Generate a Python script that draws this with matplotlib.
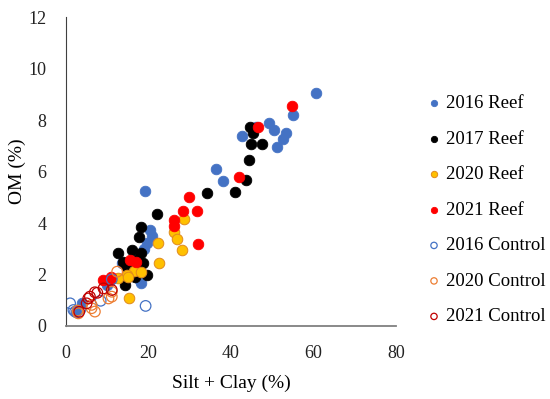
import matplotlib
matplotlib.use("Agg")
import matplotlib.pyplot as plt

plt.rcParams["font.family"] = ["Liberation Serif", "DejaVu Serif"]

# 2016 Reef
reef16_x = [60.6, 55.1, 49.3, 50.4, 46.0, 42.7, 53.3, 52.7, 51.2, 36.4, 38.1, 19.2,
            20.4, 20.8, 19.6, 18.8, 17.8, 18.3, 16.3, 13.5, 3.8, 2.4, 10.0]
reef16_y = [9.07, 8.21, 7.90, 7.61, 7.75, 7.38, 7.48, 7.25, 6.96, 6.11, 5.62, 5.25,
            3.73, 3.50, 3.21, 3.00, 1.81, 1.66, 2.25, 2.43, 0.90, 0.55, 1.60]
# 2017 Reef
reef17_x = [44.6, 45.3, 44.8, 47.4, 44.4, 43.6, 34.2, 40.9, 22.0, 18.3, 17.8, 12.7,
            15.9, 18.3, 13.9, 18.7, 19.6, 14.3, 14.7, 16.7, 17.5]
reef17_y = [7.74, 7.48, 7.06, 7.06, 6.45, 5.67, 5.17, 5.20, 4.35, 3.86, 3.44, 2.85,
            2.95, 2.82, 2.50, 2.43, 2.00, 1.59, 2.30, 1.92, 2.60]
# 2020 Reef
reef20_x = [28.5, 26.2, 27.0, 28.0, 22.2, 22.6, 16.6, 18.3, 14.7, 12.7, 15.1, 15.3]
reef20_y = [4.14, 3.66, 3.39, 2.95, 3.21, 2.46, 2.15, 2.11, 1.98, 1.85, 1.92, 1.07]
# 2021 Reef
reef21_x = [54.7, 46.6, 42.0, 29.7, 28.3, 31.7, 26.3, 26.3, 32.0, 15.5, 17.0, 9.0, 10.9, 10.7]
reef21_y = [8.54, 7.72, 5.80, 5.03, 4.45, 4.47, 4.10, 3.90, 3.18, 2.56, 2.50, 1.79, 1.91, 1.80]
# Controls
ctrl16_x = [1.0, 2.2, 1.8, 8.4, 11.1, 19.3, 3.5]
ctrl16_y = [0.88, 0.56, 0.62, 0.98, 1.81, 0.78, 0.65]
ctrl20_x = [3.0, 6.2, 7.0, 11.1, 10.3, 11.1, 12.4, 2.8, 6.2]
ctrl20_y = [0.49, 0.69, 0.56, 1.14, 1.07, 1.33, 2.11, 0.60, 0.82]
ctrl21_x = [5.0, 5.8, 7.6, 9.1, 11.1, 7.0, 5.4, 3.2]
ctrl21_y = [0.88, 1.14, 1.29, 1.46, 1.40, 1.31, 1.07, 0.55]

fig = plt.figure(figsize=(5.5, 3.99), dpi=100)
ax = fig.add_axes([0.12, 0.183, 0.6, 0.774])

s = 58
ax.scatter(reef16_x, reef16_y, s=s, color="#4472C4", edgecolor="#4472C4", linewidth=0.6, label="2016 Reef")
ax.scatter(reef17_x, reef17_y, s=s, color="black", edgecolor="black", linewidth=0.6, label="2017 Reef")
ax.scatter(reef20_x, reef20_y, s=s, color="#FFC000", edgecolor="#E08A1E", linewidth=0.7, label="2020 Reef")
ax.scatter(reef21_x, reef21_y, s=s, color="#FF0000", edgecolor="#FF0000", linewidth=0.6, label="2021 Reef")
ax.scatter(ctrl16_x, ctrl16_y, s=s, facecolor="none", edgecolor="#4472C4", linewidth=0.9, label="2016 Control")
ax.scatter(ctrl20_x, ctrl20_y, s=s, facecolor="none", edgecolor="#ED7D31", linewidth=0.9, label="2020 Control")
ax.scatter(ctrl21_x, ctrl21_y, s=s, facecolor="none", edgecolor="#C00000", linewidth=0.9, label="2021 Control")

ax.set_xlim(0, 80)
ax.set_ylim(0, 12)
ax.set_xticks([0, 20, 40, 60, 80])
ax.set_yticks([0, 2, 4, 6, 8, 10, 12])
ax.tick_params(length=0, labelsize=13, colors="#222222")
ax.tick_params(axis="y", pad=14)
ax.tick_params(axis="x", pad=14)
ax.spines[["top", "right"]].set_visible(False)
ax.spines["left"].set_color("#404040")
ax.spines["left"].set_linewidth(0.8)
ax.spines["bottom"].set_color("#808080")
ax.spines["bottom"].set_linewidth(1.3)
ax.set_xlabel("Silt + Clay (%)", fontsize=14, labelpad=9)
ax.set_ylabel("OM (%)", fontsize=14, labelpad=2)

fig.legend(loc="center left", bbox_to_anchor=(0.755, 0.473), frameon=False,
           fontsize=13.5, labelspacing=0.98, markerscale=0.6, handletextpad=0.05,
           handlelength=1.2, borderaxespad=0)

plt.savefig("out.png", dpi=100)
